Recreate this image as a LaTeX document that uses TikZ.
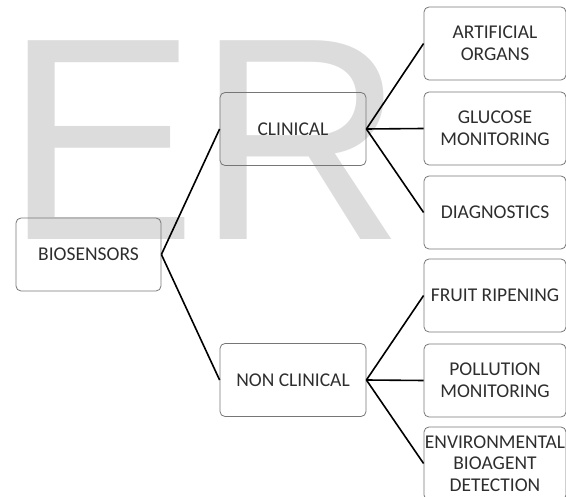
\documentclass[tikz,border=0pt]{standalone}
\usepackage{fontspec}
\newfontfamily\calfont{Carlito}
\newfontfamily\markfont{Liberation Sans}
\definecolor{boxline}{HTML}{767676}
\definecolor{boxtext}{HTML}{2E2E2E}
\definecolor{markgray}{HTML}{DCDCDC}

\begin{document}
\begin{tikzpicture}[x=1pt,y=-1pt,
  box/.style={draw=boxline, line width=0.8pt, rounded corners=5pt,
    minimum width=146pt, minimum height=73pt, inner sep=0pt,
    align=center, text=boxtext, font=\calfont\fontsize{19.5}{21.7}\selectfont},
  leaf/.style={box, minimum width=142pt},
  link/.style={line width=1.6pt, black}]

\useasboundingbox (0,0) rectangle (566,497);

% Watermark
\node[anchor=base west, inner sep=0pt, text=markgray,
  font=\markfont\fontsize{289}{289}\selectfont] (mark) at (4,240) {ER};

% Root and branches
\node[box, minimum width=145pt] (bio) at (88.5,254.5) {BIOSENSORS};
\node[box] (clin) at (293,129) {CLINICAL};
\node[box] (nonclin) at (293,380) {NON CLINICAL};

% Clinical leaves
\node[leaf] (organs) at (495,43.5) {ARTIFICIAL\\ORGANS};
\node[leaf] (glucose) at (495,128.5) {GLUCOSE\\MONITORING};
\node[leaf] (diag) at (495,212.5) {DIAGNOSTICS};

% Non clinical leaves
\node[leaf] (fruit) at (495,295.5) {FRUIT RIPENING};
\node[leaf] (pollution) at (495,380.5) {POLLUTION\\MONITORING};
\node[leaf] (enviro) at (495,463.5) {ENVIRONMENTAL\\BIOAGENT\\DETECTION};

\draw[link] (bio.east) -- (clin.west);
\draw[link] (bio.east) -- (nonclin.west);

\draw[link] (clin.east) -- (organs.west);
\draw[link] (clin.east) -- (glucose.west);
\draw[link] (clin.east) -- (diag.west);

\draw[link] (nonclin.east) -- (fruit.west);
\draw[link] (nonclin.east) -- (pollution.west);
\draw[link] (nonclin.east) -- (enviro.west);
\end{tikzpicture}
\end{document}
